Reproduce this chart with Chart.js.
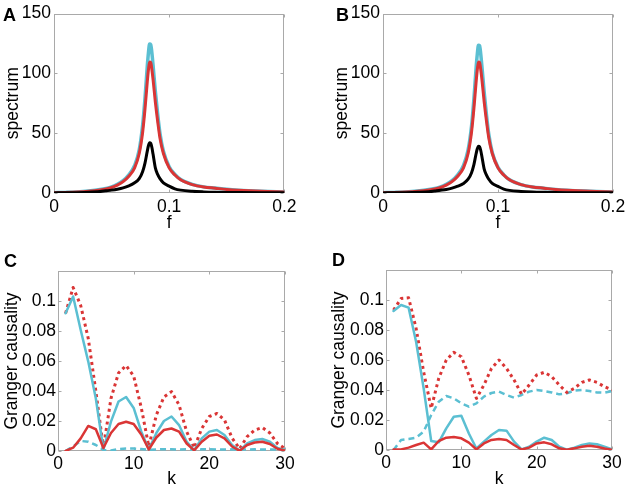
<!DOCTYPE html>
<html><head><meta charset="utf-8">
<script src="https://cdn.jsdelivr.net/npm/chart.js@4.4.0/dist/chart.umd.min.js"></script>
<style>
html,body{margin:0;padding:0;background:#fff;width:629px;height:490px;overflow:hidden;position:relative}
canvas{position:absolute}
.lbl{position:absolute;font:bold 18px "Liberation Sans",Arial,sans-serif;color:#000;line-height:18px}
</style></head><body>
<canvas id="cA" width="300" height="240" style="left:0;top:0"></canvas>
<canvas id="cB" width="314" height="240" style="left:315px;top:0"></canvas>
<canvas id="cC" width="300" height="260" style="left:0;top:230px"></canvas>
<canvas id="cD" width="314" height="260" style="left:315px;top:230px"></canvas>
<div class="lbl" style="left:3px;top:6px">A</div>
<div class="lbl" style="left:336px;top:6px">B</div>
<div class="lbl" style="left:4px;top:252px">C</div>
<div class="lbl" style="left:332px;top:251px">D</div>
<script>
// ---------- data ----------
const fGrid = [0, 0.01, 0.02, 0.03, 0.04, 0.045, 0.05, 0.055, 0.06, 0.065, 0.07, 0.074, 0.077, 0.079, 0.081, 0.082, 0.083, 0.084, 0.085, 0.086, 0.088, 0.09, 0.092, 0.095, 0.1, 0.105, 0.11, 0.12, 0.13, 0.14, 0.15, 0.16, 0.18, 0.2];
const specA_cyan  = [0.25,0.5,0.9,1.7,2.9,3.8,5.1,7.3,10.3,15.2,23,36,57,79,106,117,124.5,124,117,107,85,66,50,35,22,15.5,11.3,7.2,5.1,4.1,3.1,2.4,1.5,0.9];
const specA_red   = [0.2,0.4,0.8,1.5,2.6,3.4,4.6,6.6,9.5,14,21,33,51,70,93,103,109.5,109,103,95,76,60,46,33,21,15,11,7,5,4,3,2.3,1.4,0.9];
const specA_black = [0.1,0.15,0.3,0.6,1.2,1.8,2.4,3.2,4.3,6,8.5,12,18,25,35,39.5,42,41.5,38,32.5,21,15.5,12,8.5,5.8,3.5,2.4,1.4,0.9,0.6,0.45,0.35,0.2,0.15];
const specB_cyan  = [0.25,0.5,0.9,1.7,2.9,3.8,5.1,7.3,10.3,15.2,23,36,56,78,105,116,123.5,123,116,106,84,65,49,34,21.5,15.2,11,7,5,4,3,2.3,1.5,0.9];
const specB_red   = [0.2,0.4,0.8,1.5,2.6,3.4,4.6,6.6,9.5,14,21,33,51,70,93,103,109.5,109,103,95,76,60,46,33,21,15,11,7,5,4,3,2.3,1.4,0.9];
const specB_black = [0.1,0.15,0.3,0.6,1.1,1.7,2.3,3,4.1,5.7,8,11.5,17,23.5,33,37,39,38.5,35.5,30.5,20,15,11.5,8,5.5,3.3,2.2,1.3,0.8,0.55,0.4,0.3,0.2,0.15];

const kVals = [1,2,3,4,5,6,7,8,9,10,11,12,13,14,15,16,17,18,19,20,21,22,23,24,25,26,27,28,29,30];
const gcC_redDot    = [0.0918,0.109,0.097,0.075,0.040,0.002,0.035,0.052,0.057,0.050,0.029,0.003,0.024,0.036,0.0396,0.0307,0.013,0.002,0.015,0.023,0.025,0.0207,0.0087,0.0015,0.0096,0.014,0.0156,0.012,0.005,0.0015];
const gcC_cyanSolid = [0.0918,0.103,0.0807,0.0596,0.035,0.001,0.0196,0.033,0.036,0.0287,0.013,0.001,0.012,0.020,0.023,0.0173,0.0062,0.0005,0.0084,0.0129,0.014,0.0107,0.004,0.0003,0.0051,0.0073,0.008,0.0062,0.002,0.0005];
const gcC_redSolid  = [0.0,0.0022,0.0084,0.0167,0.0145,0.002,0.012,0.018,0.0195,0.018,0.011,0.001,0.009,0.014,0.015,0.0129,0.005,0.0004,0.0062,0.0102,0.011,0.0084,0.003,0.0002,0.004,0.0057,0.0062,0.0047,0.0015,0.0003];
const gcC_cyanDash  = [0.0,0.003,0.0067,0.0062,0.004,0.0007,0.0003,0.0013,0.0017,0.0017,0.0013,0.0008,0.001,0.0012,0.0012,0.001,0.0011,0.001,0.0011,0.0011,0.001,0.001,0.0011,0.001,0.001,0.0011,0.001,0.001,0.001,0.001];
const gcD_redDot    = [0.0933,0.101,0.1015,0.081,0.052,0.0278,0.0478,0.060,0.0651,0.0622,0.050,0.0344,0.0433,0.0544,0.060,0.0544,0.0467,0.0371,0.0433,0.050,0.0518,0.0489,0.0433,0.0384,0.0411,0.0451,0.0467,0.0451,0.0422,0.040];
const gcD_cyanSolid = [0.0927,0.0967,0.0949,0.072,0.041,0.006,0.0051,0.0144,0.0222,0.0229,0.011,0.001,0.0056,0.010,0.0133,0.0129,0.0056,0.0004,0.0022,0.0056,0.0082,0.0067,0.0022,0.0002,0.0016,0.0033,0.0044,0.0038,0.0022,0.0004];
const gcD_redSolid  = [0.0004,0.0004,0.0016,0.0033,0.0049,0.0004,0.006,0.0082,0.0087,0.0078,0.0049,0.0004,0.0044,0.0067,0.0073,0.0067,0.0033,0.0003,0.0016,0.0044,0.0051,0.0038,0.0011,0.0002,0.0011,0.0022,0.0029,0.0022,0.001,0.0002];
const gcD_cyanDash  = [0.0,0.0067,0.0073,0.0082,0.0122,0.0233,0.0322,0.036,0.0344,0.0311,0.0289,0.0311,0.0356,0.038,0.0389,0.0367,0.0349,0.0367,0.0389,0.040,0.0393,0.0384,0.0371,0.0378,0.0396,0.040,0.0393,0.0384,0.0382,0.0393];

const specXTicks = [0, 0.1, 0.2];
const specYTicks = [0, 50, 100, 150];
const gcXTicks = [0, 10, 20, 30];
const gcYTicks = [0, 0.02, 0.04, 0.06, 0.08, 0.1];

// ---------- styling ----------
const CYAN = '#5bbfd2', RED = '#da3535', BLACK = '#000000', BOX = '#a9a9a9';
const FONT = '"Liberation Sans", Arial, sans-serif';
const FS = 17.5;

const boxPlugin = {
  id: 'matlabBox',
  beforeDatasetsDraw(chart) {
    const {ctx, chartArea: a, scales: {x, y}} = chart;
    ctx.save();
    ctx.strokeStyle = BOX; ctx.lineWidth = 1;
    const l = Math.round(a.left) + 0.5, r = Math.round(a.right) - 0.5;
    const t = Math.round(a.top) + 0.5, b = Math.round(a.bottom) - 0.5;
    ctx.strokeRect(l, t, r - l, b - t);
    const L = 3;
    ctx.beginPath();
    x.ticks.forEach(tk => {
      const px = Math.round(x.getPixelForValue(tk.value)) + 0.5;
      ctx.moveTo(px, b); ctx.lineTo(px, b - L);
      ctx.moveTo(px, t); ctx.lineTo(px, t + L);
    });
    y.ticks.forEach(tk => {
      const py = Math.round(y.getPixelForValue(tk.value)) + 0.5;
      ctx.moveTo(l, py); ctx.lineTo(l + L, py);
      ctx.moveTo(r, py); ctx.lineTo(r - L, py);
    });
    ctx.stroke();
    ctx.restore();
  }
};

const fmt = v => String(+(+v).toFixed(3));

function series(xs, ys, color, width, dash, smooth) {
  return {
    data: xs.map((x, i) => ({x, y: ys[i]})),
    borderColor: color, borderWidth: width, borderDash: dash || [],
    pointRadius: 0, fill: false, tension: 0,
    cubicInterpolationMode: smooth ? 'monotone' : 'default',
    borderCapStyle: dash ? 'butt' : 'round', borderJoinStyle: 'round'
  };
}

function makePanel(id, datasets, o) {
  new Chart(document.getElementById(id), {
    type: 'line',
    data: {datasets},
    plugins: [boxPlugin],
    options: {
      responsive: false, animation: false, events: [],
      layout: {padding: {left: 0, top: o.pt, right: o.pr, bottom: 0}},
      plugins: {legend: {display: false}, tooltip: {enabled: false}},
      scales: {
        x: {
          type: 'linear', min: o.xmin, max: o.xmax,
          afterBuildTicks: s => { s.ticks = o.xTicks.map(v => ({value: v})); },
          afterFit: s => { s.height = o.xh; },
          grid: {display: false, drawTicks: false},
          border: {display: false},
          ticks: {color: '#000', font: {family: FONT, size: FS}, padding: o.xlpad, maxRotation: 0, autoSkip: false, callback: fmt},
          title: {display: true, text: o.xTitle, color: '#000', font: {family: FONT, size: FS}, padding: {top: 0, bottom: o.xtpad}}
        },
        y: {
          type: 'linear', min: o.ymin, max: o.ymax,
          afterBuildTicks: s => { s.ticks = o.yTicks.map(v => ({value: v})); },
          afterFit: s => { s.width = o.yw; },
          grid: {display: false, drawTicks: false},
          border: {display: false},
          ticks: {color: '#000', font: {family: FONT, size: FS}, padding: o.ylpad, autoSkip: false, callback: fmt},
          title: {display: true, text: o.yTitle, color: '#000', font: {family: FONT, size: FS}, padding: {top: o.ytpad, bottom: 0}}
        }
      }
    }
  });
}

makePanel('cA', [
  series(fGrid, specA_black, BLACK, 3, null, true),
  series(fGrid, specA_red, RED, 3, null, true),
  series(fGrid, specA_cyan, CYAN, 3.5, null, true)
], {pt: 13, pr: 14, xh: 47, yw: 54, xmin: 0, xmax: 0.2, ymin: 0, ymax: 150,
    xTicks: specXTicks, yTicks: specYTicks, xTitle: 'f', yTitle: 'spectrum', xtpad: 6, xlpad: 3.5, ytpad: 3, ylpad: 3});

makePanel('cB', [
  series(fGrid, specB_black, BLACK, 3, null, true),
  series(fGrid, specB_red, RED, 3, null, true),
  series(fGrid, specB_cyan, CYAN, 3.5, null, true)
], {pt: 13, pr: 16, xh: 47, yw: 68, xmin: 0, xmax: 0.2, ymin: 0, ymax: 150,
    xTicks: specXTicks, yTicks: specYTicks, xTitle: 'f', yTitle: 'spectrum', xtpad: 6, xlpad: 3.5, ytpad: 17, ylpad: 3});

makePanel('cC', [
  series(kVals, gcC_redSolid, RED, 2.5),
  series(kVals, gcC_cyanSolid, CYAN, 2.5),
  series(kVals, gcC_redDot, RED, 3, [3, 3.5]),
  series(kVals, gcC_cyanDash, CYAN, 2.5, [6, 4])
], {pt: 41, pr: 15, xh: 39, yw: 58, xmin: 0, xmax: 30, ymin: 0, ymax: 0.12,
    xTicks: gcXTicks, yTicks: gcYTicks, xTitle: 'k', yTitle: 'Granger causality', xtpad: 0, xlpad: 3, ytpad: 2, ylpad: 2});

makePanel('cD', [
  series(kVals, gcD_redSolid, RED, 2.5),
  series(kVals, gcD_cyanSolid, CYAN, 2.5),
  series(kVals, gcD_redDot, RED, 3, [3, 3.5]),
  series(kVals, gcD_cyanDash, CYAN, 2.5, [6, 4])
], {pt: 40, pr: 17, xh: 40, yw: 71, xmin: 0, xmax: 30, ymin: 0, ymax: 0.12,
    xTicks: gcXTicks, yTicks: gcYTicks, xTitle: 'k', yTitle: 'Granger causality', xtpad: 0, xlpad: 3, ytpad: 14, ylpad: 2});
</script>
</body></html>
